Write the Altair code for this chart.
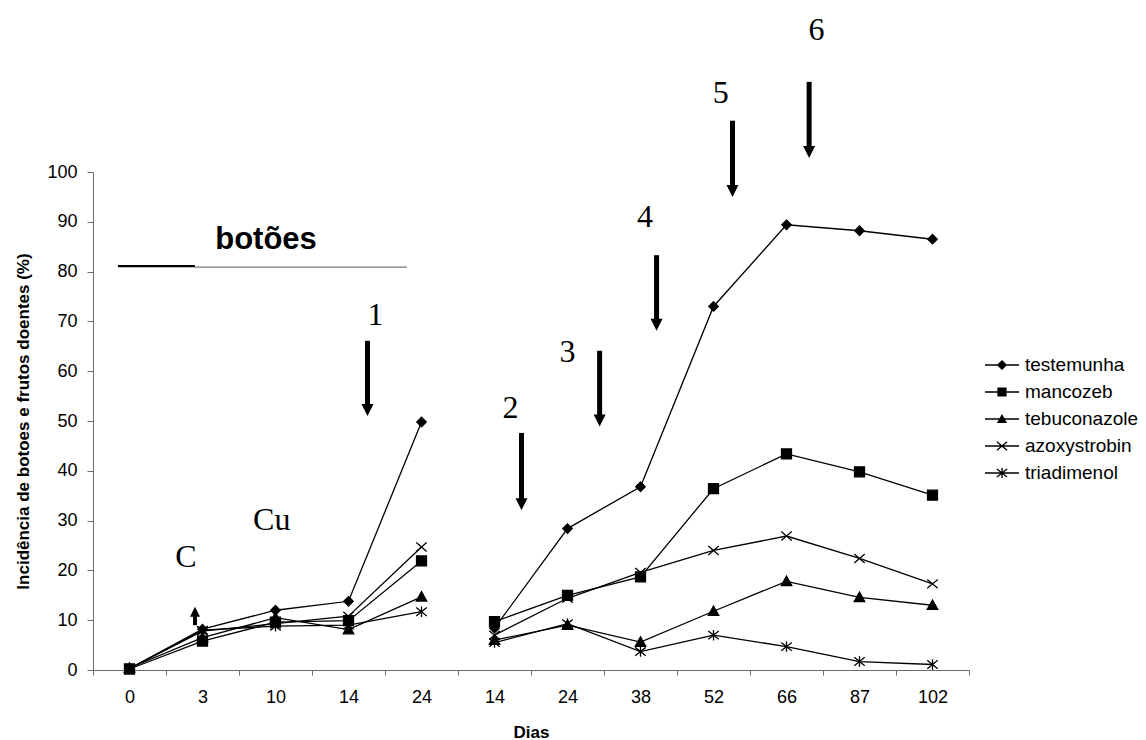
import math
import altair as alt
import pandas as pd

# ---------------- data ----------------
dias = ['0', '3', '10', '14', '24', '14', '24', '38', '52', '66', '87', '102']
segmento = [0, 0, 0, 0, 0, 1, 1, 1, 1, 1, 1, 1]
series = ['testemunha', 'mancozeb', 'tebuconazole', 'azoxystrobin', 'triadimenol']

testemunha = [0.3, 8.2, 12.0, 13.8, 49.8, 8.4, 28.4, 36.8, 73.0, 89.4, 88.2, 86.5]
mancozeb = [0.2, 5.8, 9.6, 9.9, 21.9, 9.7, 15.0, 18.7, 36.4, 43.4, 39.8, 35.1]
tebuconazole = [0.4, 6.5, 10.5, 8.1, 14.7, 6.0, 9.0, 5.6, 11.8, 17.8, 14.6, 13.0]
azoxystrobin = [0.3, 7.8, 9.3, 10.8, 24.7, 7.0, 14.4, 19.6, 24.0, 26.9, 22.4, 17.3]
triadimenol = [0.3, 8.0, 8.8, 9.0, 11.7, 5.5, 9.3, 3.7, 7.0, 4.7, 1.7, 1.1]
valores = [testemunha, mancozeb, tebuconazole, azoxystrobin, triadimenol]

# application arrows (x in category index units, y in %)
seta_rotulo = ['1', '2', '3', '4', '5', '6']
seta_x = [3.26, 5.37, 6.44, 7.22, 8.26, 9.31]
seta_topo = [66.1, 47.6, 64.1, 83.3, 110.3, 118.1]
seta_ponta = [51.0, 32.1, 48.9, 68.1, 95.0, 102.8]
rotulo_x = [3.37, 5.22, 6.00, 7.06, 8.10, 9.41]
rotulo_y = [71.3, 52.6, 63.9, 91.0, 115.9, 128.5]

# other annotations
texto_serif = ['C', 'Cu']
texto_serif_x = [0.774, 1.948]
texto_serif_y = [22.7, 30.1]
seta_c_x = [0.897]
seta_c_base = [9.0]
seta_c_ponta = [12.7]
botoes_texto = ['botões']
botoes_x = [1.87]
botoes_y = [84.5]
linha_grossa_x = [-0.158]
linha_grossa_x2 = [0.897]
linha_grossa_y = [81.1]
linha_fina_x = [0.897]
linha_fina_x2 = [3.80]
linha_fina_y = [80.9]

# ---------------- tables ----------------
# repeated day labels (second period) get a zero-width space so each category is unique
cat = []
for d in dias:
    c = d
    while c in cat:
        c = c + '\u200b'
    cat.append(c)

rows = []
for nome, vals in zip(series, valores):
    for i, v in enumerate(vals):
        rows.append({'serie': nome, 'dia': cat[i], 'seg': segmento[i], 'valor': v})
df = pd.DataFrame(rows)

df_setas = pd.DataFrame({'x': seta_x, 'topo': seta_topo, 'ponta': seta_ponta})
df_rot = pd.DataFrame({'x': rotulo_x, 'y': rotulo_y, 't': seta_rotulo})
df_serif = pd.DataFrame({'x': texto_serif_x, 'y': texto_serif_y, 't': texto_serif})
df_setac = pd.DataFrame({'x': seta_c_x, 'base': seta_c_base, 'ponta': seta_c_ponta})
df_botoes = pd.DataFrame({'x': botoes_x, 'y': botoes_y, 't': botoes_texto})
df_lg = pd.DataFrame({'x': linha_grossa_x, 'x2': linha_grossa_x2, 'y': linha_grossa_y})
df_lf = pd.DataFrame({'x': linha_fina_x, 'x2': linha_fina_x2, 'y': linha_fina_y})

# ---------------- symbol paths ----------------
def poly(pts):
    area = sum(pts[i][0] * pts[(i + 1) % len(pts)][1] - pts[(i + 1) % len(pts)][0] * pts[i][1]
               for i in range(len(pts)))
    if area < 0:
        pts = pts[::-1]
    return 'M' + 'L'.join('%.3f,%.3f' % p for p in pts) + 'Z'


def seg(x1, y1, x2, y2, w):
    dx, dy = x2 - x1, y2 - y1
    L = math.hypot(dx, dy)
    nx, ny = -dy / L * w, dx / L * w
    return poly([(x1 + nx, y1 + ny), (x2 + nx, y2 + ny), (x2 - nx, y2 - ny), (x1 - nx, y1 - ny)])


s = 0.3     # marker half size inside the 34 px legend symbol
w = 0.04    # half line thickness
base_line = seg(-1, 0, 1, 0, w)
legenda_paths = [
    base_line + poly([(0, -s), (s, 0), (0, s), (-s, 0)]),
    base_line + poly([(-0.9 * s, -0.9 * s), (0.9 * s, -0.9 * s), (0.9 * s, 0.9 * s), (-0.9 * s, 0.9 * s)]),
    base_line + poly([(0, -s), (s, 0.8 * s), (-s, 0.8 * s)]),
    base_line + seg(-s, -0.85 * s, s, 0.85 * s, w) + seg(-s, 0.85 * s, s, -0.85 * s, w),
    base_line + seg(-s, -0.8 * s, s, 0.8 * s, w) + seg(-s, 0.8 * s, s, -0.8 * s, w) + seg(0, -s, 0, s, w),
]

marcadores = [
    'M0,-0.9L0.9,0L0,0.9L-0.9,0Z',
    'M-0.95,-0.95L0.95,-0.95L0.95,0.95L-0.95,0.95Z',
    'M0,-1L1,0.8L-1,0.8Z',
    'M-1,-0.85L1,0.85M-1,0.85L1,-0.85',
    'M-1,-0.8L1,0.8M-1,0.8L1,-0.8M0,-1L0,1',
]

# ---------------- scales / axes ----------------
FONT = 'Liberation Sans'
SERIF = 'Liberation Serif'
AXC = '#6a6a6a'
n = len(dias)
x_band = alt.Scale(domain=cat, paddingInner=0, paddingOuter=0)
x_num = alt.Scale(domain=[-0.5, n - 0.5], nice=False, zero=False)
y_scale = alt.Scale(domain=[0, 100], nice=False)

x_axis = alt.Axis(
    tickBand='extent', tickSize=5, labelAngle=0,
    labelPadding=13, labelFontSize=18, labelFont=FONT, labelColor='black',
    title='Dias', titleFont=FONT, titleFontSize=17, titleFontWeight='bold',
    titleColor='black', titlePadding=18,
    domainColor=AXC, tickColor=AXC, grid=False,
)
y_axis = alt.Axis(
    values=list(range(0, 101, 10)), tickSize=6, labelPadding=10,
    labelFontSize=18, labelFont=FONT, labelColor='black',
    title='Incidência de botoes e frutos doentes (%)', titleFont=FONT,
    titleFontSize=17, titleFontWeight='bold', titleColor='black', titlePadding=14,
    domainColor=AXC, tickColor=AXC, grid=False,
)

X = alt.X('dia:N', scale=x_band, sort=cat, axis=x_axis)
Y = alt.Y('valor:Q', scale=y_scale, axis=y_axis)

linhas = alt.Chart(df).mark_line(color='black', strokeWidth=1.3).encode(
    x=X, y=Y, detail=['serie:N', 'seg:N']
)

pontos_layers = []
for nome, forma in zip(series, marcadores):
    pontos_layers.append(
        alt.Chart(df).transform_filter(alt.datum.serie == nome).mark_point(
            shape=forma, filled=True, fill='black', stroke='black', strokeWidth=1.3,
            size=110, opacity=1
        ).encode(x=X, y=Y)
    )

legenda = alt.Chart(df).mark_point(
    filled=True, color='black', fill='black', opacity=0
).encode(
    x=X, y=Y,
    shape=alt.Shape('serie:N', scale=alt.Scale(domain=series, range=legenda_paths),
                    legend=alt.Legend(title=None, orient='none', legendX=892, legendY=176,
                                      symbolSize=1156, symbolFillColor='black',
                                      symbolStrokeWidth=0,
                                      symbolOpacity=1, labelFont=FONT, labelFontSize=19,
                                      labelColor='black', labelOffset=6, rowPadding=0)),
)

XA = alt.X('x:Q', scale=x_num, axis=None)
haste = alt.Chart(df_setas).mark_rule(color='black', strokeWidth=5, strokeCap='butt', y2Offset=-8).encode(
    x=XA, y=alt.Y('topo:Q', scale=y_scale), y2='ponta:Q'
)
cabeca = alt.Chart(df_setas).mark_point(
    shape='M-1,-1L1,-1L0,1Z', size=144, filled=True, fill='black', opacity=1, yOffset=-6
).encode(x=XA, y=alt.Y('ponta:Q', scale=y_scale))
rotulos = alt.Chart(df_rot).mark_text(font=SERIF, fontSize=32, color='black', align='center', baseline='middle').encode(
    x=XA, y=alt.Y('y:Q', scale=y_scale), text='t:N'
)
serif_txt = alt.Chart(df_serif).mark_text(font=SERIF, fontSize=32, color='black', align='center', baseline='middle').encode(
    x=XA, y=alt.Y('y:Q', scale=y_scale), text='t:N'
)
haste_c = alt.Chart(df_setac).mark_rule(color='black', strokeWidth=4, strokeCap='butt', y2Offset=6).encode(
    x=XA, y=alt.Y('base:Q', scale=y_scale), y2='ponta:Q'
)
cabeca_c = alt.Chart(df_setac).mark_point(
    shape='M-1,1L1,1L0,-1Z', size=100, filled=True, fill='black', opacity=1, yOffset=5
).encode(x=XA, y=alt.Y('ponta:Q', scale=y_scale))
botoes = alt.Chart(df_botoes).mark_text(font=FONT, fontSize=31, fontWeight='bold', color='black',
                                         align='center', baseline='alphabetic').encode(
    x=XA, y=alt.Y('y:Q', scale=y_scale), text='t:N'
)
lg = alt.Chart(df_lg).mark_rule(color='black', strokeWidth=2.2).encode(
    x=XA, x2='x2:Q', y=alt.Y('y:Q', scale=y_scale)
)
lf = alt.Chart(df_lf).mark_rule(color='#555555', strokeWidth=1).encode(
    x=XA, x2='x2:Q', y=alt.Y('y:Q', scale=y_scale)
)

anot = alt.layer(haste, cabeca, rotulos, serif_txt, haste_c, cabeca_c, botoes, lg, lf)
dados = alt.layer(linhas, *pontos_layers, legenda)

chart = alt.layer(dados, anot).resolve_scale(x='independent').properties(
    width=876, height=498,
    padding={'left': 93, 'top': 172, 'right': 177, 'bottom': 70},
    autosize=alt.AutoSizeParams(type='none'),
    background='white',
).configure_view(stroke=None).configure_legend(
    labelFontSize=19, labelFont=FONT, labelColor='black',
    symbolSize=1156, symbolFillColor='black', symbolStrokeWidth=0, symbolOpacity=1,
)

chart.save('out.html', embed_options={'renderer': 'svg', 'actions': False})
